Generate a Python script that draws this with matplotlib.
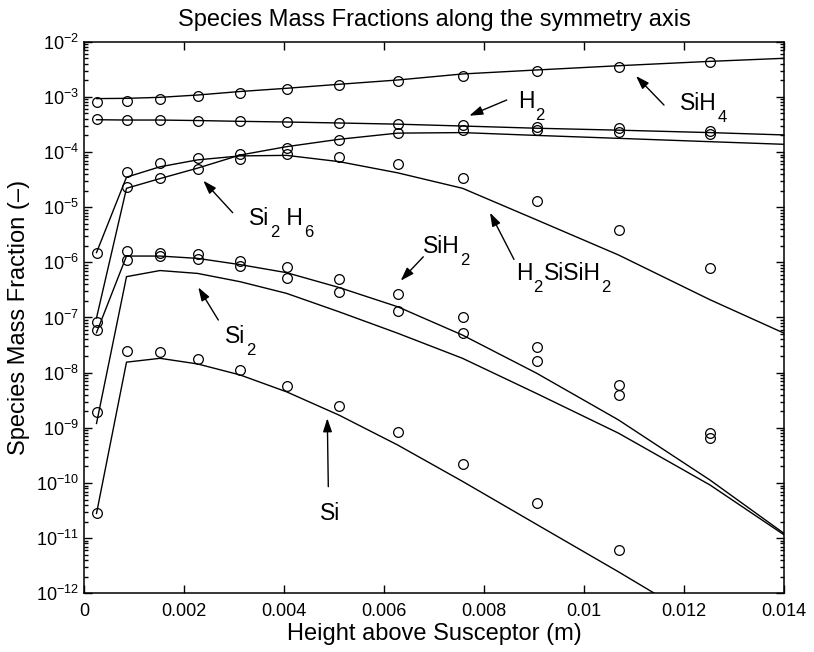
import numpy as np
import matplotlib
matplotlib.use('Agg')
import matplotlib.pyplot as plt
from matplotlib.ticker import FixedLocator, FixedFormatter, NullLocator, NullFormatter, LogFormatterSciNotation

plt.rcParams['font.family'] = ['Liberation Sans', 'DejaVu Sans']
plt.rcParams['mathtext.fontset'] = 'custom'
plt.rcParams['mathtext.rm'] = 'Liberation Sans'
plt.rcParams['mathtext.it'] = 'Liberation Sans:italic'
plt.rcParams['mathtext.bf'] = 'Liberation Sans:bold'

# ---- data ----
height_pts = [0.00025, 0.00085, 0.00152, 0.00227, 0.00312, 0.00405, 0.0051,
              0.00627, 0.00757, 0.00905, 0.01069, 0.01252]
height_line = height_pts + [0.014]

sih4_line = [9.3e-4, 9.4e-4, 9.8e-4, 1.08e-3, 1.25e-3, 1.43e-3, 1.69e-3, 2.02e-3,
             2.6e-3, 3.07e-3, 3.67e-3, 4.4e-3, 5.0e-3]
sih4_pts = [8.2e-4, 8.4e-4, 9.1e-4, 1.02e-3, 1.16e-3, 1.37e-3, 1.64e-3, 1.94e-3,
            2.39e-3, 2.94e-3, 3.52e-3, 4.22e-3]

h2_line = [3.85e-4, 3.8e-4, 3.8e-4, 3.72e-4, 3.6e-4, 3.5e-4, 3.36e-4, 3.2e-4,
           2.96e-4, 2.7e-4, 2.49e-4, 2.25e-4, 2.04e-4]
h2_pts = [3.92e-4, 3.8e-4, 3.8e-4, 3.7e-4, 3.6e-4, 3.5e-4, 3.36e-4, 3.27e-4,
          3.09e-4, 2.84e-4, 2.69e-4, 2.4e-4]

si2h6_line = [9.8e-8, 2.2e-5, 3.3e-5, 5.1e-5, 8.8e-5, 1.25e-4, 1.7e-4, 2.2e-4,
              2.25e-4, 2.0e-4, 1.77e-4, 1.54e-4, 1.38e-4]
si2h6_pts = [8.4e-8, 2.29e-5, 3.33e-5, 4.86e-5, 7.4e-5, 1.17e-4, 1.65e-4, 2.18e-4,
             2.51e-4, 2.51e-4, 2.33e-4, 2.09e-4]

h2sisih2_line = [1.5e-6, 3.5e-5, 5.4e-5, 7.2e-5, 8.5e-5, 8.7e-5, 6.7e-5, 4.2e-5,
                 2.2e-5, 5.9e-6, 1.36e-6, 2.1e-7, 5.2e-8]
h2sisih2_pts = [1.5e-6, 4.4e-5, 6.4e-5, 7.7e-5, 9.2e-5, 9.2e-5, 8.2e-5, 6.1e-5,
                3.33e-5, 1.31e-5, 3.86e-6, 7.8e-7]

sih2_line = [5.3e-8, 1.3e-6, 1.3e-6, 1.18e-6, 9.1e-7, 6.5e-7, 3.5e-7, 1.57e-7,
             4.8e-8, 9.8e-9, 1.39e-9, 1.13e-10, 1.22e-11]
sih2_pts = [5.9e-8, 1.6e-6, 1.48e-6, 1.4e-6, 1.05e-6, 8.1e-7, 5.0e-7, 2.63e-7,
            1.04e-7, 2.88e-8, 5.97e-9, 7.9e-10]

si2_line = [1.2e-9, 5.5e-7, 7.1e-7, 6.3e-7, 4.46e-7, 2.74e-7, 1.27e-7, 5.2e-8,
            1.82e-8, 4.2e-9, 8.0e-10, 9.2e-11, 1.15e-11]
si2_pts = [1.96e-9, 1.1e-6, 1.3e-6, 1.14e-6, 8.5e-7, 5.1e-7, 2.86e-7, 1.33e-7,
           5.3e-8, 1.65e-8, 3.93e-9, 6.6e-10]

si_line = [2.8e-11, 1.55e-8, 1.82e-8, 1.44e-8, 9.1e-9, 4.5e-9, 1.7e-9, 4.9e-10,
           1.07e-10, 1.78e-11, 2.45e-12, 2.5e-13, 3e-14]
si_pts = [2.8e-11, 2.5e-8, 2.4e-8, 1.77e-8, 1.12e-8, 5.8e-9, 2.52e-9, 8.5e-10,
          2.2e-10, 4.3e-11, 6.1e-12, np.nan]

x_ticks = [0, 0.002, 0.004, 0.006, 0.008, 0.010, 0.012, 0.014]
x_tick_labels = ['0', '0.002', '0.004', '0.006', '0.008', '0.01', '0.012', '0.014']
y_exponents = list(range(-12, -1))  # 10^-12 ... 10^-2

title = 'Species Mass Fractions along the symmetry axis'
xlabel = 'Height above Susceptor (m)'
ylabel = 'Species Mass Fraction (\u2013)'

# ---- figure ----
fig = plt.figure(figsize=(8.14, 6.52), dpi=100)
ax = fig.add_axes([84 / 814, 1 - 593.3 / 652, 700 / 814, 551.6 / 652])

series = [(sih4_line, sih4_pts), (h2_line, h2_pts), (si2h6_line, si2h6_pts),
          (h2sisih2_line, h2sisih2_pts), (sih2_line, sih2_pts),
          (si2_line, si2_pts), (si_line, si_pts)]
for line_vals, pt_vals in series:
    ax.plot(height_line, line_vals, '-', color='black', lw=1.0)
    ax.plot(height_pts, pt_vals, 'o', mfc='none', mec='black', ms=7, mew=0.9)

ax.set_yscale('log')
ax.set_xlim(0, 0.014)
ax.set_ylim(1e-12, 1e-2)
ax.xaxis.set_major_locator(FixedLocator(x_ticks))
ax.xaxis.set_major_formatter(FixedFormatter(x_tick_labels))
ax.xaxis.set_minor_locator(NullLocator())

y_major = [10.0 ** e for e in y_exponents]
y_minor = [m * 10.0 ** e for e in y_exponents[:-1] for m in range(2, 10)]
ax.yaxis.set_major_locator(FixedLocator(y_major))
ax.yaxis.set_major_formatter(LogFormatterSciNotation())
ax.yaxis.set_minor_locator(FixedLocator(y_minor))
ax.yaxis.set_minor_formatter(NullFormatter())

ax.tick_params(which='both', direction='in', top=True, right=True, width=1.0)
ax.tick_params(which='major', length=6, labelsize=13)
ax.tick_params(axis='x', which='major', pad=7)
ax.tick_params(which='minor', length=3)
for s in ax.spines.values():
    s.set_linewidth(1.1)

ax.set_title(title, fontsize=17, pad=11)
ax.set_xlabel(xlabel, fontsize=17, labelpad=2)
ax.set_ylabel(ylabel, fontsize=17, labelpad=4)

# ---- annotations (MATLAB-style subscripts) ----
arrow = dict(arrowstyle='-|>,head_length=0.45,head_width=0.15', color='black',
             lw=1.0, mutation_scale=18, shrinkA=0, shrinkB=0)
MAIN_FS = 16.5
SUB_FS = 12
SUB_DROP = -8.5  # points below main baseline


def label(parts, x, y, tail, tip):
    prev = ax.text(x, y, parts[0][0], fontsize=MAIN_FS, ha='left', va='baseline')
    for txt, sub in parts[1:]:
        prev = ax.annotate(txt, xy=(1, y), xycoords=(prev, 'data'),
                           xytext=(0.6, SUB_DROP if sub else 0),
                           textcoords='offset points',
                           fontsize=SUB_FS if sub else MAIN_FS,
                           ha='left', va='baseline')
    ax.annotate('', xy=tip, xytext=tail, arrowprops=arrow)


label([('SiH', 0), ('4', 1)], 0.01192, 5.78e-4, (0.0116, 7.1e-4), (0.01104, 2.39e-3))
label([('H', 0), ('2', 1)], 0.00868, 6.2e-4, (0.008454, 8.77e-4), (0.007706, 4.55e-4))
label([('Si', 0), ('2', 1), (' H', 0), ('6', 1)], 0.0033, 4.75e-6,
      (0.002974, 7.94e-6), (0.002386, 3.02e-5))
label([('H', 0), ('2', 1), ('SiSiH', 0), ('2', 1)], 0.00864, 4.79e-7,
      (0.0086, 1.13e-6), (0.00812, 7.94e-6))
label([('SiH', 0), ('2', 1)], 0.00678, 1.48e-6, (0.006786, 1.26e-6), (0.006334, 4.65e-7))
label([('Si', 0), ('2', 1)], 0.00282, 3.4e-8, (0.002686, 9.0e-8), (0.002286, 3.52e-7))
label([('Si', 0)], 0.00472, 2.13e-11, (0.004886, 8.57e-11), (0.004866, 1.49e-9))

fig.savefig('out.png', dpi=100)
